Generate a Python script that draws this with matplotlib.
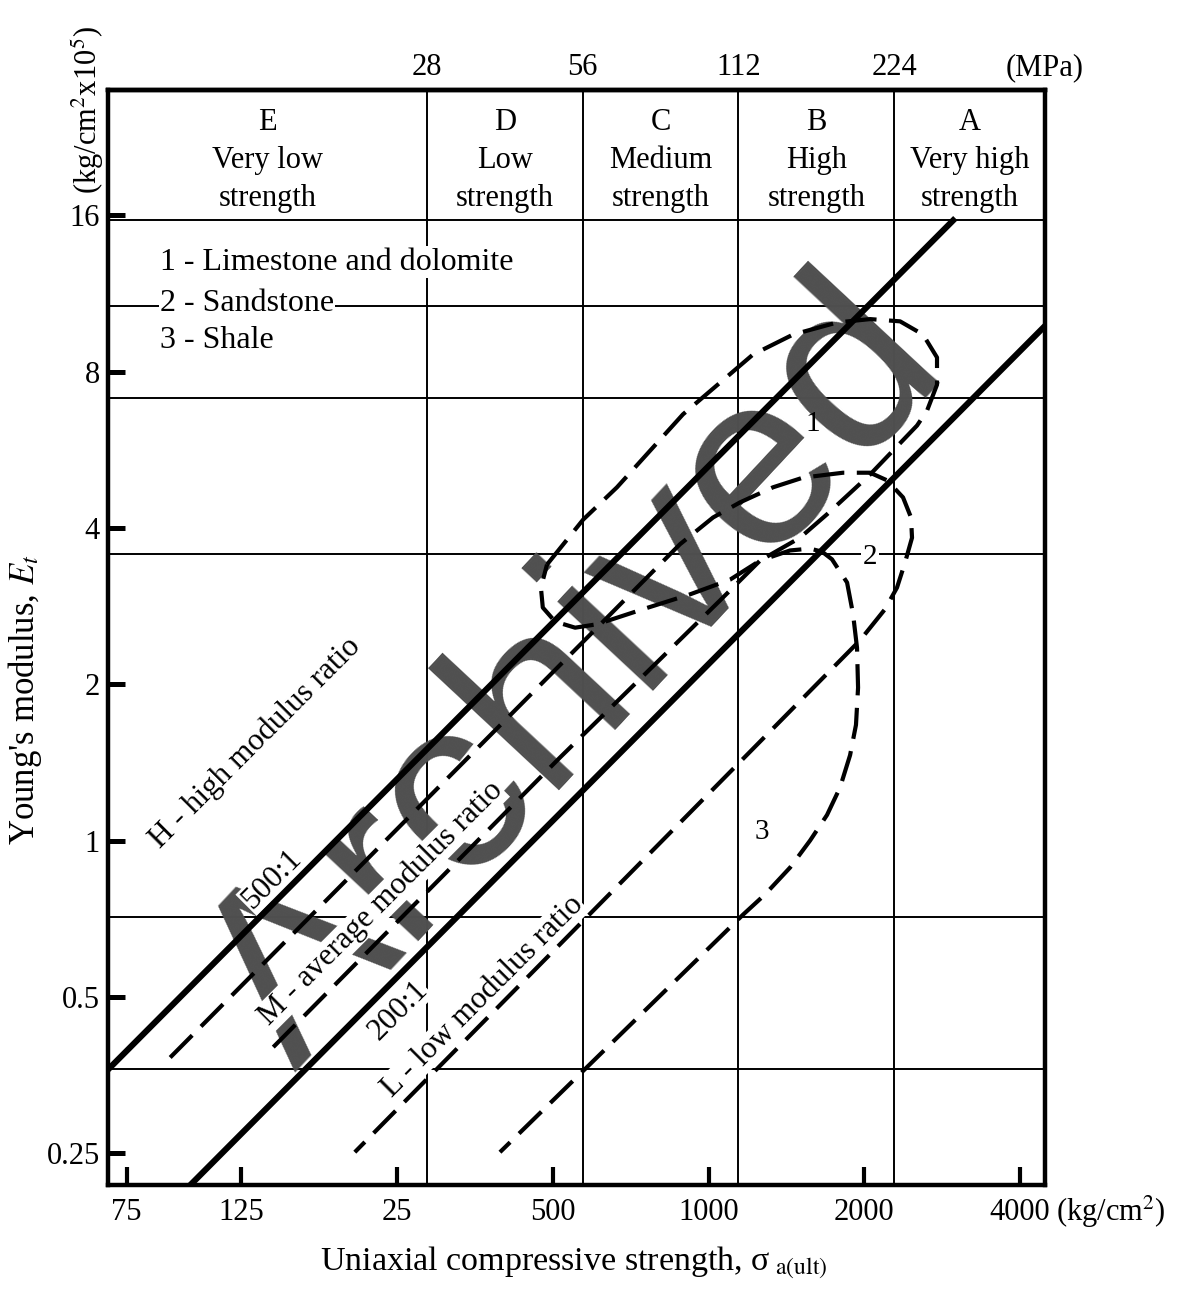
import numpy as np
import matplotlib
matplotlib.use('Agg')
import matplotlib.pyplot as plt

plt.rcParams['font.family'] = ['Liberation Serif', 'DejaVu Serif']
plt.rcParams['mathtext.fontset'] = 'stix'

# strength classes (header row), class bounds in MPa
class_letters = ['E', 'D', 'C', 'B', 'A']
class_names = ['Very low\nstrength', 'Low\nstrength', 'Medium\nstrength',
               'High\nstrength', 'Very high\nstrength']
mpa_bounds = [28, 56, 112, 224]
KG_TO_MPA = 0.0980665

# ticks
x_ticks = [75, 125, 250, 500, 1000, 2000, 4000]
x_ticklabels = ['75', '125', '25', '500', '1000', '2000', '4000']
y_ticks = [0.25, 0.5, 1, 2, 4, 8, 16]
y_ticklabels = ['0.25', '0.5', '1', '2', '4', '8', '16']
grid_E = [15.65, 10.7, 7.13, 3.56, 0.711, 0.363]

# solid modulus ratio lines (sigma kg/cm2, E x10^5 kg/cm2)
line500_s = [69.0, 2970]
line500_E = [0.362, 15.65]
line200_s = [100, 4470]
line200_E = [0.218, 9.8]

# 1 - limestone and dolomite (closed envelope)
lime_s = [487, 572, 665, 892, 1218, 1456, 1772, 2052, 2345, 2597, 2764, 2764,
          2644, 2529, 2052, 1694, 1502, 1257, 1100, 921, 747, 609, 552, 505,
          478, 474, 487]
lime_E = [3.40, 4.15, 4.79, 6.62, 8.63, 9.43, 9.95, 10.1, 10.0, 9.43, 8.52, 7.55,
          6.73, 6.30, 5.07, 4.25, 3.83, 3.46, 3.18, 2.98, 2.79, 2.61, 2.57, 2.64,
          2.81, 3.07, 3.40]

# 2 - sandstone (open envelope)
sand_s = [91, 880, 1020, 1150, 1332, 1522, 1819, 2052, 2213, 2376, 2462, 2473,
          2397, 2313, 2193, 1962, 207]
sand_E = [0.382, 3.72, 4.19, 4.48, 4.79, 5.00, 5.11, 5.11, 4.94, 4.58, 4.19, 3.83,
          3.43, 3.07, 2.79, 2.43, 0.251]

# 3 - shale (open envelope)
shale_s = [144, 516, 1052, 1257, 1437, 1571, 1657, 1732, 1852, 1902, 1936, 1945,
           1927, 1877, 1795, 1694, 1571, 1437, 1285, 1166, 395]
shale_E = [0.40, 1.445, 2.90, 3.46, 3.62, 3.65, 3.60, 3.48, 3.14, 2.73, 2.35, 1.97,
           1.67, 1.46, 1.265, 1.12, 1.00, 0.887, 0.787, 0.720, 0.251]

fig = plt.figure(figsize=(11.81, 12.91), dpi=100)
ax = fig.add_axes([108 / 1181, 106 / 1291, 937 / 1181, 1095 / 1291])
ax.set_xscale('log')
ax.set_yscale('log')
ax.set_xlim(69.0, 4470)
ax.set_ylim(0.217, 27.9)

# grid
kg_bounds = [m / KG_TO_MPA for m in mpa_bounds]
for xv in kg_bounds:
    ax.axvline(xv, color='black', lw=1.4, zorder=1)
for yv in grid_E:
    ax.axhline(yv, color='black', lw=1.4, zorder=1)

# header
edges = [69.0] + kg_bounds + [4470]
for i in range(5):
    xc = np.sqrt(edges[i] * edges[i + 1])
    ax.text(xc, 20.4, class_letters[i] + '\n' + class_names[i], ha='center',
            va='center', fontsize=22, linespacing=1.42)

# watermark
ax.text(555, 2.06, 'Archived', fontsize=178, family='Liberation Sans',
        color='#4f4f4f', rotation=47, rotation_mode='anchor',
        ha='center', va='center', zorder=2)

# lines
ax.plot(line500_s, line500_E, color='black', lw=4.4, zorder=3)
ax.plot(line200_s, line200_E, color='black', lw=4.4, zorder=3)
for s, e in [(lime_s, lime_E), (sand_s, sand_E), (shale_s, shale_E)]:
    ax.plot(s, e, color='black', lw=3.0, dashes=(7.5, 3), zorder=3)

wb = dict(fc='white', ec='none', pad=1)
ax.text(87, 13.0, '1 - Limestone and dolomite', fontsize=23, va='center', bbox=wb, zorder=2.5)
ax.text(87, 10.8, '2 - Sandstone', fontsize=23, va='center', bbox=wb, zorder=2.5)
ax.text(87, 9.2, '3 - Shale', fontsize=23, va='center', bbox=wb, zorder=2.5)
ax.text(1590, 6.33, '1', fontsize=21, ha='center', va='center')
ax.text(2052, 3.51, '2', fontsize=21, ha='center', va='center', bbox=wb, zorder=2.5)
ax.text(1268, 1.04, '3', fontsize=21, ha='center', va='center')

rot_labels = [(133, 1.54, 'H - high modulus ratio'),
              (143, 0.84, '500:1'),
              (233, 0.756, 'M - average modulus ratio'),
              (251, 0.47, '200:1'),
              (366, 0.50, 'L - low modulus ratio')]
for xv, yv, t in rot_labels:
    ax.text(xv, yv, t, fontsize=22.5, rotation=45, rotation_mode='anchor',
            ha='center', va='center', bbox=dict(fc='white', ec='none', pad=0.5),
            zorder=2.5)

# axes styling
for sp in ax.spines.values():
    sp.set_linewidth(3.2)
ax.set_xticks(x_ticks, x_ticklabels)
ax.set_yticks(y_ticks, y_ticklabels)
ax.minorticks_off()
ax.tick_params(axis='x', direction='in', length=13, width=3, labelsize=22, pad=9)
ax.tick_params(axis='y', direction='in', length=12, width=3.6, labelsize=22, pad=6)

secax = ax.secondary_xaxis('top', functions=(lambda x: x * KG_TO_MPA,
                                             lambda m: m / KG_TO_MPA))
secax.set_xticks(mpa_bounds, [str(m) for m in mpa_bounds])
secax.minorticks_off()
secax.tick_params(length=0, labelsize=22, pad=6)
secax.spines['top'].set_linewidth(3.2)

ax.text(1.0, 1.020, '(MPa)', transform=ax.transAxes, ha='center', va='center', fontsize=22)
ax.text(1.012, -0.0247, '(kg/cm$^2$)', transform=ax.transAxes, ha='left', va='center', fontsize=22)

fig.text(0.021, 0.458, "Young's modulus, $E_t$", rotation=90, ha='center',
         va='center', fontsize=25)
fig.text(0.0745, 0.915, '(kg/cm$^2$x10$^5$)', rotation=90, ha='center',
         va='center', fontsize=22)
fig.text(0.486, 0.022, 'Uniaxial compressive strength, σ$_{\\mathrm{\\ a(ult)}}$',
         ha='center', va='center', fontsize=24.5)

fig.savefig('out.png', dpi=100)
